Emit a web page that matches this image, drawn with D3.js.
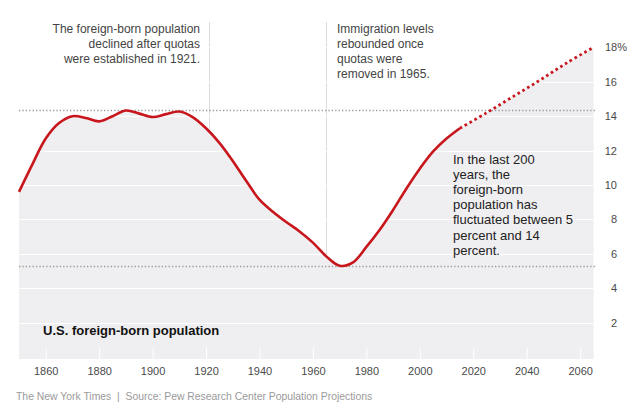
<!DOCTYPE html>
<html>
<head>
<meta charset="utf-8">
<script src="https://cdn.jsdelivr.net/npm/d3@7"></script>
<style>
  html, body { margin: 0; padding: 0; background: #fff; }
  svg { display: block; }
  text { font-family: "Liberation Sans", Arial, sans-serif; }
</style>
</head>
<body>
<svg id="chart" width="640" height="412"></svg>
<script>
// ---- Data ----
const years  = [1850,1855,1860,1865,1870,1875,1880,1885,1890,1895,1900,1905,1910,1915,1920,1925,1930,1935,1940,1945,1950,1955,1960,1965,1970,1975,1980,1985,1990,1995,2000,2005,2010,2015];
const shares = [9.6,11.2,12.7,13.6,14.0,13.9,13.7,14.0,14.33,14.15,13.95,14.12,14.27,13.95,13.3,12.45,11.4,10.25,9.15,8.45,7.85,7.3,6.65,5.85,5.3,5.5,6.4,7.4,8.55,9.8,10.95,11.95,12.7,13.3];
const projYears  = [2015,2025,2035,2045,2055,2065];
const projShares = [13.3,14.2,15.15,16.1,17.1,18.0];
const xTickValues = [1860,1880,1900,1920,1940,1960,1980,2000,2020,2040,2060];
const yTickValues = [2,4,6,8,10,12,14,16,18];
const rangeLevels = [5.3, 14.38];
const markerYears = [1921, 1965];
const noteQuotas  = ["The foreign-born population","declined after quotas","were established in 1921."];
const noteRebound = ["Immigration levels","rebounded once","quotas were","removed in 1965."];
const noteRange   = ["In the last 200","years, the","foreign-born","population has","fluctuated between 5","percent and 14","percent."];
const chartTitle  = "U.S. foreign-born population";
const footer      = "The New York Times  |  Source: Pew Research Center Population Projections";

// ---- Layout ----
const svg = d3.select("#chart");
const plot = { left: 19, right: 595, top: 47, bottom: 359 };
const x = d3.scaleLinear().domain([1850, 2065]).range([19, 593.5]);
const y = d3.scaleLinear().domain([0, 18]).range([357, 47.4]);
const red = "#c8161d";

const hist = years.map((d, i) => ({ year: d, v: shares[i] }));
const proj = projYears.map((d, i) => ({ year: d, v: projShares[i] }));
const all = hist.concat(proj.slice(1));
const curve = d3.curveCatmullRom.alpha(0.5);

// marker lines (drawn under the area so they only show above the curve)
svg.append("g").selectAll("line").data(markerYears).join("line")
  .attr("x1", d => Math.round(x(d)) + 0.5).attr("x2", d => Math.round(x(d)) + 0.5)
  .attr("y1", 22).attr("y2", plot.bottom)
  .attr("stroke", "#dcdcdc").attr("stroke-width", 1);

// area
svg.append("path").datum(all)
  .attr("d", d3.area().x(d => x(d.year)).y0(plot.bottom).y1(d => y(d.v)).curve(curve))
  .attr("fill", "#efeef0");

// white gridlines
svg.append("g").selectAll("line").data(yTickValues).join("line")
  .attr("x1", plot.left).attr("x2", plot.right)
  .attr("y1", d => Math.round(y(d)) + 0.5).attr("y2", d => Math.round(y(d)) + 0.5)
  .attr("stroke", "#fff").attr("stroke-width", 1);

// x axis (white ticks inside area, labels below)
const xAxis = svg.append("g").attr("transform", `translate(0,${plot.bottom})`)
  .call(d3.axisTop(x).tickValues(xTickValues).tickSize(11).tickFormat(d3.format("d")));
xAxis.select(".domain").remove();
xAxis.selectAll(".tick line").attr("stroke", "#fff").attr("stroke-width", 1);
xAxis.selectAll(".tick text")
  .attr("y", 12).attr("dy", "0.32em")
  .attr("fill", "#4a4a4a").attr("font-size", 11)
  .attr("font-family", "'Liberation Sans', Arial, sans-serif");

// y axis labels at the right
const yAxis = svg.append("g").attr("transform", `translate(617,0)`)
  .call(d3.axisRight(y).tickValues(yTickValues).tickSize(0).tickFormat(d3.format("d")));
yAxis.select(".domain").remove();
yAxis.selectAll(".tick text")
  .attr("x", 0).attr("text-anchor", "end")
  .attr("fill", "#4a4a4a").attr("font-size", 11)
  .attr("font-family", "'Liberation Sans', Arial, sans-serif")
  .each(function(d) {
    if (d === 18) {
      const t = d3.select(this);
      t.text(null);
      t.append("tspan").text("18");
      t.append("tspan").text("%");
      t.attr("text-anchor", "start").attr("x", -12);
    }
  });

// dotted range lines
svg.append("g").selectAll("line").data(rangeLevels).join("line")
  .attr("x1", plot.left).attr("x2", plot.right)
  .attr("y1", d => Math.round(y(d)) + 0.5).attr("y2", d => Math.round(y(d)) + 0.5)
  .attr("stroke", "#999").attr("stroke-width", 1.3)
  .attr("stroke-dasharray", "1.3,2.1");

// lines
svg.append("path").datum(hist)
  .attr("d", d3.line().x(d => x(d.year)).y(d => y(d.v)).curve(curve))
  .attr("fill", "none").attr("stroke", red).attr("stroke-width", 2.6)
  .attr("stroke-linejoin", "round");
svg.append("path").datum(proj)
  .attr("d", d3.line().x(d => x(d.year)).y(d => y(d.v)).curve(curve))
  .attr("fill", "none").attr("stroke", red).attr("stroke-width", 2.8)
  .attr("stroke-dasharray", "2.6,3");

// annotations
function block(lines, xPos, y0, lh, anchor, size, color) {
  svg.append("text").attr("text-anchor", anchor)
    .attr("font-size", size).attr("fill", color)
    .selectAll("tspan").data(lines).join("tspan")
    .attr("x", xPos).attr("y", (d, i) => y0 + i * lh).attr("dy", "0.35em")
    .text(d => d);
}
block(noteQuotas, 200, 29, 15, "end", 12, "#444");
block(noteRebound, 337, 29, 15, "start", 12, "#444");
block(noteRange, 453, 159.5, 15.1, "start", 13, "#222");

svg.append("text").attr("x", 43).attr("y", 330).attr("dy", "0.35em")
  .attr("font-size", 13).attr("font-weight", "bold").attr("fill", "#111")
  .text(chartTitle);

svg.append("text").attr("x", 16).attr("y", 396).attr("dy", "0.35em")
  .attr("font-size", 10.4).attr("fill", "#9a9a9a")
  .attr("xml:space", "preserve").style("white-space", "pre")
  .text(footer);
</script>
</body>
</html>
